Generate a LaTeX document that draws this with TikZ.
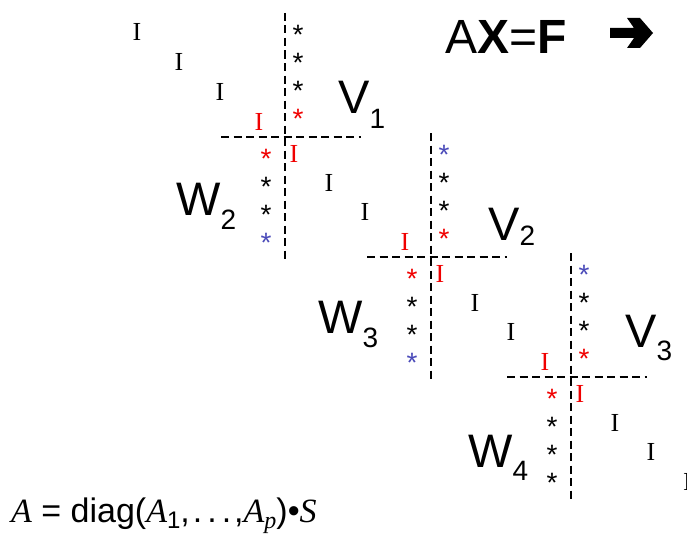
\documentclass[tikz,border=0pt]{standalone}
\usepackage{fontspec}
\setmainfont{Liberation Sans}
\newfontfamily\tnr{Liberation Serif}
\usepackage{xcolor}
\usepackage{tikz}
\definecolor{starblue}{RGB}{75,75,185}
\definecolor{idred}{RGB}{240,0,0}
\newcommand{\drop}[2]{{\fontsize{28}{28}\selectfont\raisebox{-#1}{#2}}}
\newcommand{\tvar}[1]{{\tnr\itshape #1}}
\tikzset{
  ident/.style={font=\tnr\fontsize{26}{26}\selectfont,inner sep=0pt},
  star/.style={font=\fontsize{28}{28}\selectfont,inner sep=0pt,yshift=-5.5pt},
  dashln/.style={line width=2.3pt,dash pattern=on 8pt off 4.5pt},
  biglbl/.style={font=\fontsize{47}{47}\selectfont,anchor=base west,inner sep=0pt}
}

\begin{document}
\begin{tikzpicture}[x=1pt,y=-1pt,line join=round]
  \useasboundingbox (0,0) rectangle (687,535);
  % leading identity blocks
  \node[ident] (i0-1) at (137,32) {I};
  \node[ident] (i0-2) at (179,62) {I};
  \node[ident] (i0-3) at (220,92) {I};
  % the three interface crosses
  \foreach \k/\cx/\cy/\rt/\lb in {1/285/137/black/starblue,
      2/431/257/starblue/starblue, 3/571/377/starblue/black} {
    \draw[dashln] (\cx,\cy-124) -- (\cx,\cy+122);
    \draw[dashln] (\cx-64,\cy) -- (\cx+76,\cy);
    \node[star,text=\rt] (r\k-1) at (\cx+13,\cy-108) {*};
    \node[star] (r\k-2) at (\cx+13,\cy-80) {*};
    \node[star] (r\k-3) at (\cx+13,\cy-52) {*};
    \node[star,text=idred] (r\k-4) at (\cx+13,\cy-24) {*};
    \node[star,text=idred] (l\k-1) at (\cx-19,\cy+16) {*};
    \node[star] (l\k-2) at (\cx-19,\cy+44) {*};
    \node[star] (l\k-3) at (\cx-19,\cy+72) {*};
    \node[star,text=\lb] (l\k-4) at (\cx-19,\cy+100) {*};
    \node[ident,text=idred] (u\k) at (\cx-26,\cy-15) {I};
    \node[ident,text=idred] (d\k) at (\cx+9,\cy+17) {I};
    \node[ident] (d\k-2) at (\cx+44,\cy+46) {I};
    \node[ident] (d\k-3) at (\cx+80,\cy+75) {I};
  }
  \node[ident] (d3-4) at (687.5,482) {I};
  % subdomain labels
  \node[biglbl] (v1) at (338,113) {V\drop{15pt}{1}};
  \node[biglbl] (v2) at (488,240) {V\drop{5pt}{2}};
  \node[biglbl] (v3) at (625,347) {V\drop{13pt}{3}};
  \node[biglbl] (w2) at (176,215) {W\drop{14pt}{2}};
  \node[biglbl] (w3) at (318,333) {W\drop{14pt}{3}};
  \node[biglbl] (w4) at (468,467) {W\drop{13pt}{4}};
  % system and formula
  \node[biglbl,font=\fontsize{48}{48}\selectfont] (sys) at (445,53)
    {A\textbf{X}=\textbf{F}};
  \fill (610,28) -- (634,28) -- (627,18) -- (640,18) -- (653,33)
    -- (640,48) -- (627,48) -- (634,38) -- (610,38) -- cycle;
  \node[anchor=base west,inner sep=0pt,font=\fontsize{34}{34}\selectfont]
    (form) at (11,522)
    {\tvar{A} = diag(\tvar{A}\drop{6pt}{\fontsize{24}{24}\selectfont 1}{,}\kern3pt.\kern5pt.\kern5pt.\kern3pt{,}\tvar{A}\drop{6pt}{\fontsize{24}{24}\selectfont\tvar{p}})•\tvar{S}};
\end{tikzpicture}
\end{document}
